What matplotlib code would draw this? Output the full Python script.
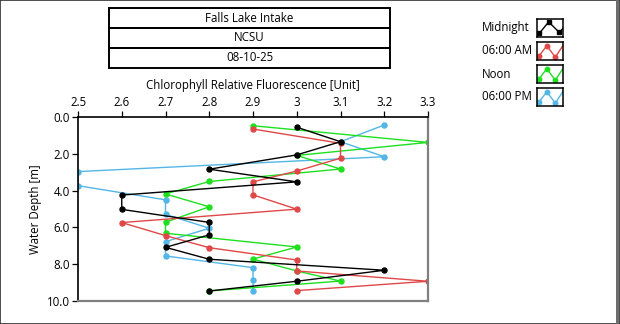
import matplotlib
matplotlib.use("Agg")
import matplotlib.pyplot as plt
from matplotlib.patches import Rectangle

plt.rcParams["font.family"] = ["Open Sans", "DejaVu Sans"]
plt.rcParams["font.size"] = 8.3

# data
midnight_depth = [0.54, 1.33, 2.05, 2.83, 3.52, 4.24, 5.02, 5.73, 6.41, 7.09, 7.74, 8.34, 8.94, 9.47]
midnight_val = [3.0, 3.1, 3.0, 2.8, 3.0, 2.6, 2.6, 2.8, 2.8, 2.7, 2.8, 3.2, 3.0, 2.8]

am6_depth = [0.64, 1.42, 2.23, 2.93, 3.52, 4.23, 5.01, 5.74, 6.45, 7.11, 7.78, 8.38, 8.94, 9.45]
am6_val = [2.9, 3.1, 3.1, 3.0, 2.9, 2.9, 3.0, 2.6, 2.7, 2.8, 3.0, 3.0, 3.3, 3.0]

noon_depth = [0.46, 1.37, 2.08, 2.82, 3.50, 4.18, 4.88, 5.72, 6.32, 7.07, 7.73, 8.38, 8.93, 9.47]
noon_val = [2.9, 3.3, 3.0, 3.1, 2.8, 2.7, 2.8, 2.7, 2.7, 3.0, 2.9, 3.0, 3.1, 2.8]

pm6_depth = [0.42, 1.33, 2.15, 2.96, 3.73, 4.50, 5.29, 6.05, 6.78, 7.56, 8.20, 8.85, 9.45]
pm6_val = [3.2, 3.1, 3.2, 2.5, 2.5, 2.7, 2.7, 2.8, 2.7, 2.7, 2.9, 2.9, 2.9]

series_names = ["Midnight", "06:00 AM", "Noon", "06:00 PM"]
series_colors = ["#000000", "#e04848", "#1ee01e", "#52b6e6"]
title_lines = ["Falls Lake Intake", "NCSU", "08-10-25"]

x_ticks = [2.5, 2.6, 2.7, 2.8, 2.9, 3.0, 3.1, 3.2, 3.3]
x_ticklabels = ["2.5", "2.6", "2.7", "2.8", "2.9", "3", "3.1", "3.2", "3.3"]
y_ticks = [0, 2, 4, 6, 8, 10]
y_ticklabels = ["0.0", "2.0", "4.0", "6.0", "8.0", "10.0"]

W, H = 620, 324
fig = plt.figure(figsize=(W / 100, H / 100), dpi=100)

def fx(px):
    return px / W

def fy(py):
    return 1 - py / H

# window frame
fig.patches.append(Rectangle((0, 0), 1, 1, transform=fig.transFigure, fill=False,
                             edgecolor="#303030", linewidth=1.2))
fig.patches.append(Rectangle((fx(616), 0), fx(3), 1, transform=fig.transFigure,
                             facecolor="#6e6e6e", edgecolor="none"))

# main plot
ax = fig.add_axes([fx(78), fy(300.7), fx(428 - 78), (300.7 - 117.3) / H])
all_data = [(midnight_val, midnight_depth), (am6_val, am6_depth),
            (noon_val, noon_depth), (pm6_val, pm6_depth)]
# draw in reverse so midnight sits on top
for (vals, depths), c in reversed(list(zip(all_data, series_colors))):
    ax.plot(vals, depths, color=c, linewidth=1.0, marker="o", markersize=3.6)

ax.set_xlim(2.5, 3.3)
ax.set_ylim(10, 0)
ax.xaxis.tick_top()
ax.xaxis.set_label_position("top")
ax.set_xticks(x_ticks)
ax.set_xticklabels(x_ticklabels)
ax.set_yticks(y_ticks)
ax.set_yticklabels(y_ticklabels)
ax.tick_params(length=4, width=0.9, pad=2, labelsize=8.3)
ax.set_xlabel("Chlorophyll Relative Fluorescence [Unit]", fontsize=8.3, labelpad=5)
ax.set_ylabel("Water Depth [m]", fontsize=8.3, labelpad=3)
for s in ["left", "top"]:
    ax.spines[s].set_color("black")
    ax.spines[s].set_linewidth(1.2)
for s in ["right", "bottom"]:
    ax.spines[s].set_color("#808080")
    ax.spines[s].set_linewidth(1.6)

# title boxes
box_edges = [8.3, 27.7, 47.7, 67.7]
for i, txt in enumerate(title_lines):
    top, bot = box_edges[i], box_edges[i + 1]
    fig.patches.append(Rectangle((fx(109.3), fy(bot)), fx(390 - 109.3), (bot - top) / H,
                                 transform=fig.transFigure, fill=False,
                                 edgecolor="black", linewidth=1.4))
    fig.text(fx(249.6), fy((top + bot) / 2), txt, ha="center", va="center", fontsize=8.3)

# legend with little sample icons
leg_tops = [19.3, 42.3, 65.3, 88.3]
for name, c, top in zip(series_names, series_colors, leg_tops):
    fig.text(fx(482.3), fy(top + 8.7), name, ha="left", va="center", fontsize=8.3)
    iax = fig.add_axes([fx(536.7), fy(top + 17.5), fx(26.6), 17.5 / H])
    iax.set_xlim(0, 1)
    iax.set_ylim(0, 1)
    iax.set_xticks([])
    iax.set_yticks([])
    for s in iax.spines.values():
        s.set_linewidth(1.1)
        s.set_color("black")
    if name == "Midnight":
        iax.plot([0.1, 0.45, 0.85, 1.0], [0.2, 0.85, 0.25, 0.5], color=c, lw=1.0)
        iax.plot([0.1, 0.45, 0.85], [0.2, 0.85, 0.25], "s", color=c, ms=2.5)
    else:
        iax.plot([0.0, 0.38, 0.7, 1.0], [0.05, 0.8, 0.15, 0.85], color=c, lw=1.0)
        iax.plot([0.1, 0.38, 0.7], [0.2, 0.8, 0.15], "o", color=c, ms=3.2)

fig.savefig("out.png", dpi=100)
